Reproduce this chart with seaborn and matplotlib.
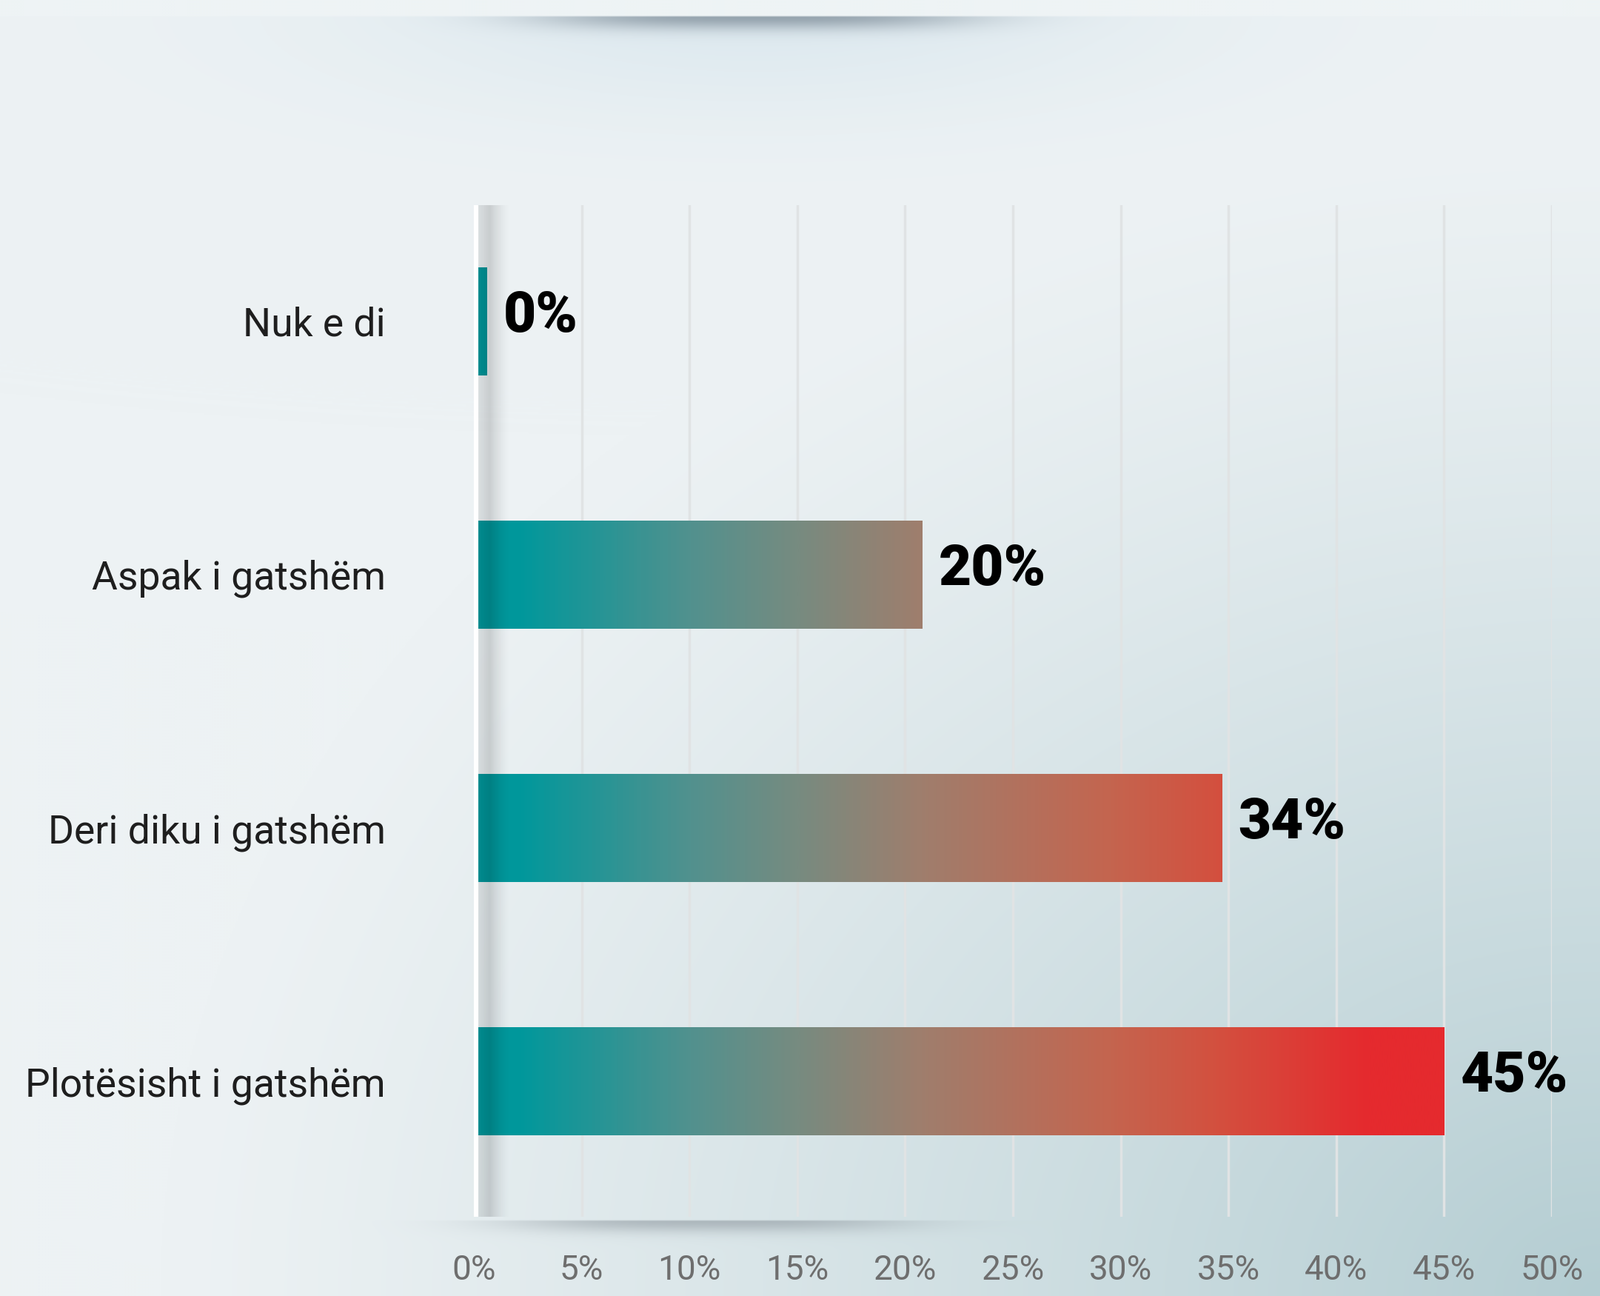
import math
import numpy as np
import pandas as pd
import matplotlib
matplotlib.use("Agg")
import matplotlib.pyplot as plt
import seaborn as sns
from matplotlib.colors import LinearSegmentedColormap, Normalize

# ---------------- data ----------------
categories = ["Nuk e di", "Aspak i gatshëm", "Deri diku i gatshëm", "Plotësisht i gatshëm"]
values = [0.6, 20.8, 34.7, 45.0]
value_labels = [f"{math.floor(v)}%" for v in values]
x_ticks = [0, 5, 10, 15, 20, 25, 30, 35, 40, 45, 50]
x_tick_labels = [f"{t}%" for t in x_ticks]

# ---------------- style ----------------
sns.set_theme(style="white")
plt.rcParams["font.family"] = ["Roboto", "Liberation Sans", "DejaVu Sans"]

W, H = 2161, 1750
fig = plt.figure(figsize=(W / 100, H / 100), dpi=100)

# ---------------- background ----------------
hh, ww = 875, 1081
yy, xx = np.mgrid[0:hh, 0:ww].astype(np.float32)
X = xx * W / ww
Y = yy * H / hh
base = np.array([237, 242, 244]) / 255
corner = np.array([180, 205, 210]) / 255
d = np.sqrt(((W - X) / W) ** 2 + ((H - Y) / H) ** 2)
t = np.clip(1 - d / 0.9, 0, 1) ** 1.2
img = base * (1 - t[..., None]) + corner * t[..., None]

def blend(img, w, col):
    c = np.array(col) / 255
    return img * (1 - w[..., None]) + c * w[..., None]

below_top = (Y >= 21).astype(np.float32)
halo = 0.6 * np.exp(-((X - 1020) / 560) ** 2 - ((Y - 15) / 140) ** 2) * below_top
img = blend(img, halo, (212, 228, 237))
top_sh = 0.75 * np.exp(-np.abs((X - 1020) / 290) ** 3) * np.exp(-((Y - 21) / 18) ** 2) * below_top
img = blend(img, top_sh, (125, 140, 152))
band = (Y < 21).astype(np.float32)
img = blend(img, band, (238, 243, 245))
bot_sh = 0.62 * np.exp(-np.abs((X - 960) / 270) ** 3) * np.exp(-((Y - 1647) / 16) ** 2) * (Y >= 1647)
img = blend(img, bot_sh, (145, 155, 162))

bg_ax = fig.add_axes([0, 0, 1, 1], zorder=-10)
bg_ax.imshow(np.clip(img, 0, 1), extent=[0, W, H, 0], aspect="auto", interpolation="bilinear")
bg_ax.set_axis_off()

# ---------------- main axes ----------------
x0_px, x1_px, top_px, bot_px = 640, 2096, 277, 1643
ax = fig.add_axes([x0_px / W, 1 - bot_px / H, (x1_px - x0_px) / W, (bot_px - top_px) / H])
ax.patch.set_alpha(0)

df = pd.DataFrame({"category": categories, "value": values})
sns.barplot(data=df, x="value", y="category", orient="h", width=0.427,
            color="#00979b", ax=ax, zorder=3)

# gradient fill clipped to each bar
stops = [(0.0, "#00969a"), (2 / 45, "#00989c"), (10 / 45, "#52918e"), (15 / 45, "#778b80"),
         (20.7 / 45, "#9f7e6d"), (29.5 / 45, "#c4654f"), (34.5 / 45, "#d3503f"),
         (41.5 / 45, "#e52a2e"), (1.0, "#e52a2e")]
cmap = LinearSegmentedColormap.from_list("tealred", stops)
vmax = max(values)
grad = np.linspace(0, vmax, 600).reshape(1, -1)
for p in ax.patches:
    im = ax.imshow(grad, extent=(0, vmax, len(categories) - 0.5, -0.5), cmap=cmap,
                   norm=Normalize(0, vmax), aspect="auto", interpolation="bilinear", zorder=3)
    im.set_clip_path(p)
    p.set_facecolor("none")
    p.set_edgecolor("none")

# shadow right of the axis line
prof_x = np.linspace(0, 1, 80)
prof = np.where(prof_x < 0.35, 0.08 + 0.07 * prof_x / 0.35, 0.15 * (1 - (prof_x - 0.35) / 0.65) ** 1.5)
shadow = np.zeros((1, 80, 4))
shadow[..., 3] = prof
ax.imshow(shadow, extent=(0.004, 0.034, 0, 1), transform=ax.transAxes, aspect="auto",
          interpolation="bilinear", zorder=4)

# white axis line
ax.axvline(0, color="white", lw=8, zorder=5)

# value labels
for i, (v, lab) in enumerate(zip(values, value_labels)):
    ax.annotate(lab, xy=(v, i), xytext=(16, 5), textcoords="offset points",
                ha="left", va="center", fontsize=55, fontweight="black", color="black", zorder=6)

ax.set_xlim(0, 50)
ax.set_ylim(len(categories) - 1 + 0.535, -0.459)
ax.set_xticks(x_ticks)
ax.set_xticklabels(x_tick_labels)
ax.grid(axis="x", color="#e0e3e4", lw=2.5, zorder=1)
ax.grid(axis="y", visible=False)
ax.set_axisbelow(True)
ax.set_xlabel("")
ax.set_ylabel("")
for s in ax.spines.values():
    s.set_visible(False)
ax.tick_params(axis="x", length=0, pad=36, labelsize=33, labelcolor="#6e6e6e")
ax.tick_params(axis="y", length=0, pad=86, labelsize=38.5, labelcolor="#1e1e1e")
for lab in ax.get_yticklabels():
    lab.set_fontweight("normal")
for lab in ax.get_xticklabels():
    lab.set_fontweight("normal")

fig.savefig("out.png", dpi=100)
